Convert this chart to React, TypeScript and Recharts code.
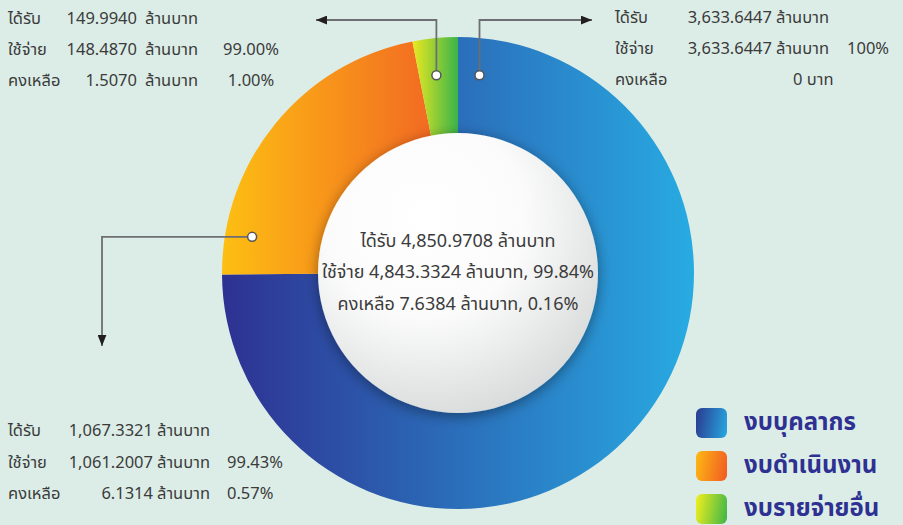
import React from 'react';
import { PieChart, Pie, Cell, Legend } from 'recharts';

// budget by category (million baht)
const categories = ['งบบุคลากร', 'งบดำเนินงาน', 'งบรายจ่ายอื่น'];
const received = [3633.6447, 1067.3321, 149.994];
const spent = [3633.6447, 1061.2007, 148.487];
const remaining = [0, 6.1314, 1.507];

const data = categories.map((name, i) => ({
  name,
  value: received[i],
  spent: spent[i],
  remaining: remaining[i],
}));
const disc = [{ name: 'รวม', value: 1 }];

const RADIAN = Math.PI / 180;
const FONT = "Tahoma, 'Noto Sans Thai', 'Noto Sans', 'DejaVu Sans', sans-serif";
const TEXT = '#3b3b3b';
const LINE = '#6d6e71';

const GRADS = [
  { id: 'gBlue', from: '#2e3192', to: '#28abe2' },
  { id: 'gOrange', from: '#fdbf12', to: '#f26a22' },
  { id: 'gGreen', from: '#ebe820', to: '#3ab44a' },
];
const LEGEND_GRADS = [
  ['#2b3990', '#27a9e1'],
  ['#fdb913', '#f15a24'],
  ['#f2ef1d', '#3cb54a'],
];

// where each annotation sits (leader line + text block)
const NOTES: any[] = [
  { frac: 0.023, r: 199, elbowY: 20, endX: 592, x: 615, numEnd: 772, unit: 776, pct: 847, pctAnchor: 'start', rows: [17, 48, 79] },
  { frac: 0.13, r: 209, elbowX: 102, endY: 346, x: 8, numEnd: 153, unit: 157, pct: 227, pctAnchor: 'start', rows: [430, 462, 493] },
  { frac: 0.44, r: 199, elbowY: 20, endX: 316, x: 8, numEnd: 137, unit: 145, pct: 251, pctAnchor: 'middle', rows: [18, 49, 80] },
];

const fmt = (v: number) =>
  v.toLocaleString('en-US', { minimumFractionDigits: 4, maximumFractionDigits: 4 });
const pct = (a: number, b: number) => {
  const p = (a / b) * 100;
  return p === 100 ? '100%' : `${p.toFixed(2)}%`;
};

const renderNote = (props: any) => {
  const { cx, cy, startAngle, endAngle, index, payload } = props;
  const n = NOTES[index];
  const a = startAngle + (endAngle - startAngle) * n.frac;
  const x = cx + n.r * Math.cos(-a * RADIAN);
  const y = cy + n.r * Math.sin(-a * RADIAN);
  const pts =
    n.elbowY !== undefined
      ? `${x},${y} ${x},${n.elbowY} ${n.endX},${n.elbowY}`
      : `${x},${y} ${n.elbowX},${y} ${n.elbowX},${n.endY}`;
  const row = (i: number, label: string, num: string, unit: string, p?: string) => (
    <g key={i}>
      <text x={n.x} y={n.rows[i]} dominantBaseline="central" fill={TEXT} fontSize={16.5}>{label}</text>
      {num !== '' && (
        <text x={n.numEnd} y={n.rows[i]} textAnchor="end" dominantBaseline="central" fill={TEXT} fontSize={16.5}>{num}</text>
      )}
      <text x={num !== '' ? n.unit : 793} y={n.rows[i]} dominantBaseline="central" fill={TEXT} fontSize={16.5}>{unit}</text>
      {p && (
        <text x={n.pct} y={n.rows[i]} textAnchor={n.pctAnchor} dominantBaseline="central" fill={TEXT} fontSize={16.5}>{p}</text>
      )}
    </g>
  );
  const d = payload.payload ?? payload;
  const rec = d.value;
  const sp = d.spent;
  const rem = d.remaining;
  return (
    <g>
      <polyline points={pts} fill="none" stroke={LINE} strokeWidth={1.8} markerEnd="url(#arrow)" />
      <circle cx={x} cy={y} r={4.5} fill="#fff" stroke="#555" strokeWidth={1.5} />
      {row(0, 'ได้รับ', fmt(rec), 'ล้านบาท')}
      {row(1, 'ใช้จ่าย', fmt(sp), 'ล้านบาท', pct(sp, rec))}
      {rem === 0
        ? row(2, 'คงเหลือ', '', `${rem} บาท`)
        : row(2, 'คงเหลือ', fmt(rem), 'ล้านบาท', pct(rem, rec))}
    </g>
  );
};

const renderCenter = (props: any) => {
  const { cx, cy } = props;
  const totRec = received.reduce((s, v) => s + v, 0);
  const totSp = spent.reduce((s, v) => s + v, 0);
  const totRem = remaining.reduce((s, v) => s + v, 0);
  const lines = [
    `ได้รับ ${fmt(totRec)} ล้านบาท`,
    `ใช้จ่าย ${fmt(totSp)} ล้านบาท, ${pct(totSp, totRec)}`,
    `คงเหลือ ${fmt(totRem)} ล้านบาท, ${pct(totRem, totRec)}`,
  ];
  return (
    <g>
      {lines.map((t, i) => (
        <text key={i} x={cx} y={cy - 32 + i * 31.5} textAnchor="middle" dominantBaseline="central" fill={TEXT} fontSize={18}>
          {t}
        </text>
      ))}
    </g>
  );
};

const renderLegend = (props: any) => (
  <div>
    {(props.payload || []).map((p: any, i: number) => {
      const k = Math.max(0, categories.indexOf(p.value));
      return (
        <div key={i} style={{ display: 'flex', alignItems: 'center', height: 43 }}>
          <div
            style={{
              width: 31,
              height: 30,
              borderRadius: 6,
              marginRight: 17,
              background: `linear-gradient(100deg, ${LEGEND_GRADS[k][0]}, ${LEGEND_GRADS[k][1]})`,
            }}
          />
          <span style={{ fontSize: 24, fontWeight: 'bold', color: '#2e3192', lineHeight: '26px' }}>{p.value}</span>
        </div>
      );
    })}
  </div>
);

export default function App() {
  return (
    <div style={{ position: 'absolute', left: 0, top: 0, width: 903, height: 525, background: '#dcede7', fontFamily: FONT }}>
      <PieChart width={903} height={525} style={{ fontFamily: FONT }}>
        <defs>
          {GRADS.map((g) => (
            <linearGradient key={g.id} id={g.id} x1="0" y1="0" x2="1" y2="0">
              <stop offset="0%" stopColor={g.from} />
              <stop offset="100%" stopColor={g.to} />
            </linearGradient>
          ))}
          <radialGradient id="gDisc" cx="38%" cy="30%" r="80%">
            <stop offset="0%" stopColor="#ffffff" />
            <stop offset="45%" stopColor="#fbfbfb" />
            <stop offset="100%" stopColor="#d3d6d6" />
          </radialGradient>
          <filter id="discShadow" x="-20%" y="-20%" width="140%" height="140%">
            <feDropShadow dx="0" dy="3" stdDeviation="7" floodColor="#000" floodOpacity="0.4" />
          </filter>
          <marker id="arrow" viewBox="0 0 10 8" refX="10" refY="4" markerWidth="11" markerHeight="9" markerUnits="userSpaceOnUse" orient="auto">
            <path d="M0,0 L10,4 L0,8 z" fill="#231f20" />
          </marker>
        </defs>
        <Pie
          data={data}
          dataKey="value"
          nameKey="name"
          cx={453}
          cy={268}
          innerRadius={138}
          outerRadius={236}
          startAngle={90}
          endAngle={-270}
          stroke="none"
          labelLine={false}
          label={renderNote}
          isAnimationActive={false}
        >
          {data.map((entry, index) => (
            <Cell key={`cell-${index}`} fill={`url(#${GRADS[index % GRADS.length].id})`} stroke="none" />
          ))}
        </Pie>
        <Pie
          data={disc}
          dataKey="value"
          cx={453}
          cy={268}
          innerRadius={0}
          outerRadius={140}
          stroke="none"
          labelLine={false}
          label={renderCenter}
          legendType="none"
          isAnimationActive={false}
        >
          <Cell fill="url(#gDisc)" filter="url(#discShadow)" />
        </Pie>
        <Legend content={renderLegend} itemSorter={null as any} wrapperStyle={{ left: 696, top: 401, width: 207 }} />
      </PieChart>
    </div>
  );
}
